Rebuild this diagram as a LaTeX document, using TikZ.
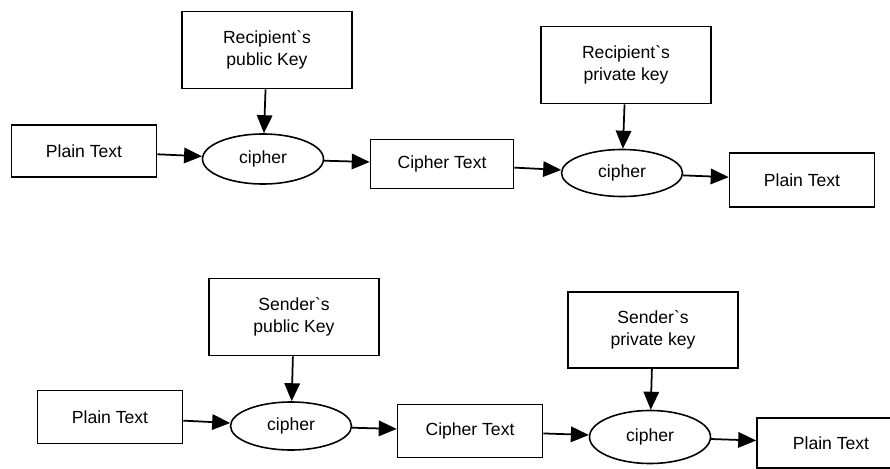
\documentclass[tikz,border=0pt]{standalone}
\usepackage{fontspec}
\setmainfont{Liberation Sans}
\usepackage{tikz}
\usetikzlibrary{arrows.meta,shapes.geometric}
\tikzset{%
  textbox/.style={draw, rectangle, line width=0.9pt, inner sep=0pt,
    minimum width=2.9cm, minimum height=1.04cm, font=\fontsize{10}{12.5}\selectfont},% plain / cipher text
  keybox/.style={textbox, minimum width=3.4cm, minimum height=1.54cm, align=center},% key boxes
  cipher/.style={draw, ellipse, line width=0.9pt, inner sep=0pt,
    minimum width=2.42cm, minimum height=1.0cm, font=\fontsize{10}{12}\selectfont},% cipher step
  flow/.style={line width=1pt, -{Triangle[length=3.6mm,width=3.1mm]}}% arrows
}
\begin{document}
\begin{tikzpicture}
\clip[use as bounding box] (0,0) rectangle (17.8,-9.38);

% recipient's keys
\node[textbox] (pt1) at (1.68, -3.02) {Plain Text};
\node[keybox] (pk1) at (5.34, -1.0) {Recipient\textasciigrave s\\public Key};
\node[cipher] (c1) at (5.26, -3.18) {cipher};
\node[textbox, minimum width=2.86cm, minimum height=0.98cm] (ct1) at (8.84, -3.28) {Cipher Text};
\node[keybox] (sk1) at (12.52, -1.30) {Recipient\textasciigrave s\\private key};
\node[cipher, minimum height=0.94cm] (c2) at (12.44, -3.46) {cipher};
\node[textbox, minimum height=1.08cm] (pt2) at (16.04, -3.60) {Plain Text};

\draw[flow] (pt1) -- (c1);
\draw[flow] (pk1) -- (c1);
\draw[flow] (c1) -- (ct1);
\draw[flow] (ct1) -- (c2);
\draw[flow] (sk1) -- (c2);
\draw[flow] (c2) -- (pt2);

% sender's keys
\node[textbox, minimum height=1.06cm] (pt3) at (2.2, -8.34) {Plain Text};
\node[keybox] (pk2) at (5.88, -6.34) {Sender\textasciigrave s\\public Key};
\node[cipher, minimum height=0.96cm] (c3) at (5.82, -8.52) {cipher};
\node[textbox, minimum height=1.06cm] (ct2) at (9.4, -8.62) {Cipher Text};
\node[keybox, minimum height=1.52cm] (sk2) at (13.06, -6.6) {Sender\textasciigrave s\\private key};
\node[cipher, minimum height=1.06cm] (c4) at (13.0, -8.74) {cipher};
\node[textbox, minimum width=2.96cm, minimum height=1.0cm] (pt4) at (16.62, -8.86) {Plain Text};

\draw[flow] (pt3) -- (c3);
\draw[flow] (pk2) -- (c3);
\draw[flow] (c3) -- (ct2);
\draw[flow] (ct2) -- (c4);
\draw[flow] (sk2) -- (c4);
\draw[flow] (c4) -- (pt4);

\end{tikzpicture}
\end{document}
